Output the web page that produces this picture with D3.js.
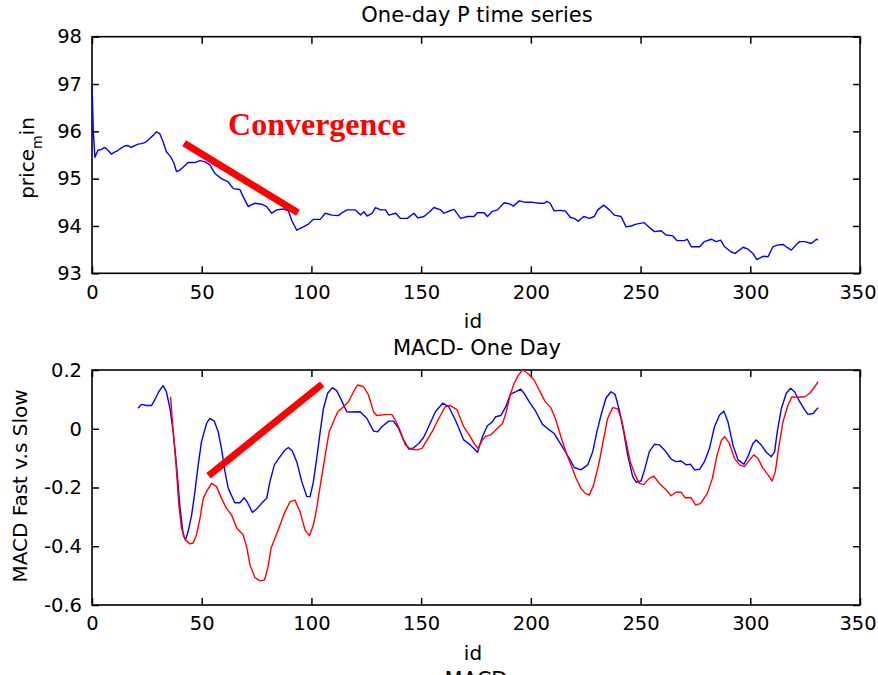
<!DOCTYPE html>
<html>
<head>
<meta charset="utf-8">
<script src="https://cdn.jsdelivr.net/npm/d3@7"></script>
<style>
  html, body { margin: 0; padding: 0; background: #fff; }
  svg { display: block; }
  text { font-family: "DejaVu Sans", sans-serif; fill: #000; }
</style>
</head>
<body>
<script>
// ---- One-day price series ----
const priceIds = [0, 0.6, 1.3, 2.7, 4.3, 5.8, 7.3, 8.8, 10.3, 11.9, 13.4, 14.9, 16.4, 17.9, 19.5, 21, 22.5, 24, 25.2, 26.3,
  28, 29.4, 30.9, 32.4, 33.9, 35.9, 37.4, 38.5, 40, 41.5, 43.8, 46.9, 49.2, 51.4, 53.7, 56, 59, 62.1, 64.4, 67.4,
  68.9, 71.2, 72.8, 74.3, 77.3, 79.6, 81.9, 84.2, 87.2, 89.5, 91, 93.3, 96.3, 98.6, 100.9, 104, 106.3, 109.3, 112.3, 114,
  116.3, 120.1, 122.4, 123.9, 125.4, 127.7, 129.2, 131.5, 133.8, 135.3, 138.4, 140.6, 143.7, 146.7, 148.5, 151.3, 153.6, 155.8, 158.9, 160.4,
  161.9, 165, 168, 171.1, 174.1, 175.6, 178.7, 180.2, 182.5, 184.8, 187.8, 190.8, 192, 194.7, 197.7, 200.8, 203.8, 206.1, 207.3, 208.8,
  210.6, 213.6, 215.9, 218, 219.8, 221.6, 224.1, 226.6, 228.9, 230.5, 233.2, 235.8, 238, 241.1, 243.4, 245.7, 248, 251.7, 254, 256.3,
  259.4, 261.6, 264.7, 266.7, 270, 271.3, 273.1, 276.9, 279.1, 282.2, 284.5, 286.5, 288.3, 291.3, 293.1, 296.7, 299, 301.2, 303, 305.8,
  308.1, 310.3, 312.6, 314.9, 316.4, 318.7, 321, 322.5, 324.8, 327.9, 330.1, 330.9];
const priceVals = [97.0, 96.0, 95.45, 95.6, 95.62, 95.66, 95.6, 95.52, 95.56, 95.6, 95.65, 95.69, 95.7, 95.66, 95.7, 95.73, 95.74, 95.76, 95.8, 95.85,
  95.92, 95.99, 95.95, 95.78, 95.57, 95.46, 95.32, 95.15, 95.18, 95.24, 95.34, 95.34, 95.38, 95.36, 95.29, 95.11, 95.0, 94.93, 94.79, 94.77,
  94.62, 94.41, 94.45, 94.48, 94.46, 94.41, 94.27, 94.34, 94.36, 94.32, 94.12, 93.91, 93.98, 94.04, 94.14, 94.14, 94.27, 94.23, 94.22, 94.28,
  94.34, 94.34, 94.23, 94.30, 94.21, 94.27, 94.39, 94.34, 94.34, 94.23, 94.27, 94.16, 94.16, 94.27, 94.17, 94.2, 94.29, 94.39, 94.34, 94.27,
  94.30, 94.35, 94.16, 94.2, 94.2, 94.28, 94.28, 94.2, 94.31, 94.34, 94.49, 94.46, 94.42, 94.53, 94.5, 94.5, 94.48, 94.48, 94.52, 94.48,
  94.32, 94.33, 94.31, 94.18, 94.16, 94.1, 94.2, 94.16, 94.2, 94.34, 94.44, 94.34, 94.23, 94.2, 93.98, 94.0, 94.04, 94.07, 93.97, 93.88,
  93.9, 93.81, 93.79, 93.69, 93.69, 93.72, 93.56, 93.56, 93.67, 93.72, 93.67, 93.70, 93.56, 93.45, 93.42, 93.55, 93.51, 93.42, 93.29, 93.36,
  93.35, 93.56, 93.6, 93.61, 93.56, 93.49, 93.61, 93.67, 93.67, 93.63, 93.72, 93.70];

// ---- MACD fast line (blue) ----
const fastIds = [21, 22.5, 24.8, 27.1, 28.6, 30.4, 32.4, 33.9, 35.5, 37, 38.5, 40, 41.6, 42.6, 43.8, 45.4, 46.9, 48.4, 49.9, 52.2,
  53.7, 55.7, 57.5, 59, 60.6, 62.1, 65.1, 67.4, 69.4, 70.8, 73.1, 75, 77.3, 79.6, 81.1, 83.1, 85.7, 88, 89.5, 91.3,
  93.3, 95.6, 97.9, 99.4, 100.9, 102.4, 104, 105.5, 107.4, 109.6, 111.6, 113.8, 116.1, 118.4, 122.2, 125.3, 128.3, 130.3, 132.1, 135.2,
  137.4, 139.7, 142, 144.3, 146.6, 148.9, 151.1, 153.4, 156.5, 159.8, 162.6, 165.6, 169.4, 172.4, 175.7, 177.9, 180.2, 182.5, 184, 186.3,
  188.6, 190.6, 193.2, 195.4, 196.9, 199.2, 202.3, 205.3, 208.4, 210.6, 212.9, 215.2, 217.5, 219.8, 222.8, 225.9, 228.2, 230.1, 232, 234.2,
  236.5, 238.4, 240.3, 242.3, 244.1, 246.4, 248, 250.2, 252, 254, 256.3, 258.6, 260.9, 263.9, 266.2, 268.5, 270.8, 272.8, 274.6, 276.9,
  279.1, 281.4, 283.7, 286, 288, 289.8, 292.1, 294.4, 297.1, 298.9, 301.2, 302.7, 305, 307.3, 309.6, 311.1, 312.3, 314.2, 316.4, 318.4,
  320.2, 322.5, 324.8, 326.3, 328.6, 330.9];
const fastVals = [0.07, 0.083, 0.079, 0.079, 0.098, 0.126, 0.147, 0.126, 0.07, -0.01, -0.123, -0.26, -0.362, -0.379, -0.35, -0.294, -0.214, -0.123, -0.044, 0.018,
  0.035, 0.026, -0.01, -0.067, -0.146, -0.203, -0.252, -0.252, -0.235, -0.25, -0.285, -0.273, -0.254, -0.237, -0.18, -0.123, -0.095, -0.072, -0.064, -0.076,
  -0.112, -0.18, -0.231, -0.231, -0.18, -0.101, -0.01, 0.07, 0.121, 0.14, 0.129, 0.095, 0.058, 0.057, 0.058, 0.035, -0.008, -0.01, 0.007, 0.026,
  0.026, 0.001, -0.038, -0.069, -0.065, -0.05, -0.03, 0.007, 0.058, 0.087, 0.075, 0.03, -0.038, -0.055, -0.08, -0.027, 0.01, 0.024, 0.041, 0.045,
  0.075, 0.117, 0.126, 0.135, 0.121, 0.092, 0.058, 0.015, -0.004, -0.016, -0.044, -0.072, -0.101, -0.132, -0.14, -0.123, -0.078, -0.01, 0.047, 0.104,
  0.126, 0.117, 0.064, -0.01, -0.089, -0.163, -0.182, -0.178, -0.135, -0.078, -0.053, -0.055, -0.072, -0.103, -0.112, -0.11, -0.123, -0.121, -0.14, -0.138,
  -0.112, -0.067, 0.007, 0.047, 0.06, 0.024, -0.055, -0.106, -0.121, -0.095, -0.05, -0.038, -0.055, -0.08, -0.095, -0.078, -0.01, 0.07, 0.121, 0.138,
  0.126, 0.092, 0.064, 0.049, 0.052, 0.072];

// ---- MACD slow line (red) ----
const slowIds = [35.8, 37, 38.3, 39.6, 40.8, 42.6, 44.6, 46.1, 47.6, 49.2, 50.7, 52.2, 54.5, 56.8, 59, 61.3, 63.6, 65.9, 68.9, 70.5,
  72, 74.3, 76.6, 78.6, 80.1, 81.6, 83.4, 85.7, 88, 90.3, 92.5, 94.8, 97.1, 99.1, 100.9, 102.4, 104.3, 106.3, 108.1, 110,
  112, 114.6, 116.9, 119.2, 121.1, 123.7, 126, 128.3, 129.8, 133.6, 136.7, 138.2, 140.5, 142.8, 145.1, 148.1, 150.4, 152.7, 155, 158,
  161, 163.3, 166.4, 169.4, 172.4, 174.1, 176, 177.9, 179.5, 181.7, 184, 187.1, 188.6, 190.6, 192.4, 194.2, 196.2, 198.5, 201.5, 203.8,
  206.4, 209.1, 211.4, 213.7, 216, 218.3, 220.5, 222.8, 224.8, 226.6, 228.6, 231.2, 233.2, 235, 237.3, 239.6, 241.4, 243.4, 245.3, 247.5,
  249.4, 251.4, 254, 256, 258.6, 261.6, 263.9, 266.2, 268.5, 270.3, 273.1, 275.1, 277.4, 280.4, 282.7, 284.9, 286.9, 288.3, 290.5, 292.8,
  295.1, 297.4, 299.7, 301.6, 303.5, 305.8, 308.1, 310, 311.4, 312.9, 314.9, 317.2, 319, 321, 324.8, 327.1, 329.4, 330.9];
const slowVals = [0.109, -0.01, -0.123, -0.26, -0.339, -0.379, -0.392, -0.389, -0.362, -0.305, -0.237, -0.214, -0.186, -0.197, -0.237, -0.271, -0.294, -0.337, -0.362, -0.402,
  -0.464, -0.507, -0.518, -0.515, -0.475, -0.407, -0.373, -0.328, -0.282, -0.248, -0.243, -0.282, -0.345, -0.364, -0.328, -0.271, -0.18, -0.089, -0.01, 0.024,
  0.058, 0.075, 0.092, 0.126, 0.149, 0.143, 0.115, 0.058, 0.045, 0.048, 0.048, 0.03, -0.008, -0.055, -0.069, -0.072, -0.067, -0.038, -0.01, 0.035,
  0.075, 0.079, 0.064, 0.007, -0.027, -0.05, -0.067, -0.038, -0.025, -0.021, -0.004, 0.018, 0.052, 0.115, 0.155, 0.181, 0.2, 0.189, 0.166, 0.132,
  0.094, 0.072, 0.03, -0.027, -0.08, -0.123, -0.167, -0.203, -0.22, -0.226, -0.192, -0.112, -0.033, 0.035, 0.072, 0.068, 0.03, -0.044, -0.112, -0.157,
  -0.186, -0.19, -0.169, -0.161, -0.186, -0.208, -0.228, -0.216, -0.216, -0.235, -0.235, -0.26, -0.254, -0.22, -0.169, -0.089, -0.038, -0.027, -0.05, -0.101,
  -0.123, -0.129, -0.106, -0.089, -0.101, -0.135, -0.157, -0.178, -0.146, -0.067, 0.024, 0.081, 0.109, 0.107, 0.109, 0.121, 0.143, 0.16];

// ---- axis ticks ----
const idTicks = [0, 50, 100, 150, 200, 250, 300, 350];
const priceTicks = [93, 94, 95, 96, 97, 98];
const macdTicks = [-0.6, -0.4, -0.2, 0, 0.2];
const macdTickLabels = ["-0.6", "-0.4", "-0.2", "0", "0.2"];

// ---- trend annotations: [id, value] endpoints ----
const priceTrend = [[42, 95.75], [93.9, 94.28]];
const macdTrend = [[53.1, -0.16], [104.9, 0.152]];

const W = 878, H = 675;
const svg = d3.select("body").append("svg").attr("width", W).attr("height", H);
svg.append("rect").attr("width", W).attr("height", H).attr("fill", "#fff");

const X0 = 92, X1 = 860;

function panel(opt) {
  const x = d3.scaleLinear().domain([0, 350]).range([X0, X1]);
  const y = d3.scaleLinear().domain(opt.yDomain).range([opt.yBottom, opt.yTop]);
  const g = svg.append("g");

  const fmt = opt.yLabels ? (d => opt.yLabels[opt.yTicks.indexOf(d)]) : d3.format("d");

  const axB = g.append("g").attr("transform", `translate(0,${opt.yBottom})`)
    .call(d3.axisBottom(x).tickValues(idTicks).tickFormat(d3.format("d")).tickSizeInner(-7).tickSizeOuter(0).tickPadding(11.5));
  const axT = g.append("g").attr("transform", `translate(0,${opt.yTop})`)
    .call(d3.axisTop(x).tickValues(idTicks).tickFormat("").tickSizeInner(-7).tickSizeOuter(0));
  const axL = g.append("g").attr("transform", `translate(${X0},0)`)
    .call(d3.axisLeft(y).tickValues(opt.yTicks).tickFormat(fmt).tickSizeInner(-7).tickSizeOuter(0).tickPadding(10));
  const axR = g.append("g").attr("transform", `translate(${X1},0)`)
    .call(d3.axisRight(y).tickValues(opt.yTicks).tickFormat("").tickSizeInner(-7).tickSizeOuter(0));
  [axB, axT, axL, axR].forEach(a => {
    a.select(".domain").remove();
    a.selectAll("line").attr("stroke", "#000").attr("stroke-width", 1.5);
    a.selectAll("text").attr("font-family", "DejaVu Sans").attr("font-size", 19.5).attr("fill", "#000");
  });
  // keep the last id label inside the page edge
  axB.selectAll("text").filter(d => d === 350).attr("dx", -2.5);

  g.append("rect").attr("x", X0).attr("y", opt.yTop)
    .attr("width", X1 - X0).attr("height", opt.yBottom - opt.yTop)
    .attr("fill", "none").attr("stroke", "#000").attr("stroke-width", 1.6);

  opt.series.forEach(s => {
    const pts = s.ids.map((d, i) => [d, s.vals[i]]);
    g.append("path").datum(pts)
      .attr("d", d3.line().x(d => x(d[0])).y(d => y(d[1])))
      .attr("fill", "none").attr("stroke", s.color).attr("stroke-width", 1.4)
      .attr("stroke-linejoin", "round");
  });

  g.append("path").datum(opt.trend)
    .attr("d", d3.line().x(d => x(d[0])).y(d => y(d[1])))
    .attr("stroke", "#ff0000").attr("stroke-width", 7).attr("fill", "none");

  g.append("text").attr("x", (X0 + X1) / 2 + 1).attr("y", opt.titleY)
    .attr("text-anchor", "middle").attr("font-size", 21).text(opt.title);
  g.append("text").attr("x", (X0 + X1) / 2 - 3).attr("y", opt.yBottom + 55)
    .attr("text-anchor", "middle").attr("font-size", 20).text("id");
  return { x, y, g };
}

const pricePanel = panel({
  yTop: 36.7, yBottom: 273.3, yDomain: [93, 98], yTicks: priceTicks,
  title: "One-day P time series", titleY: 21.5,
  series: [{ ids: priceIds, vals: priceVals, color: "#0000ff" }],
  trend: priceTrend
});
const macdPanel = panel({
  yTop: 370, yBottom: 605, yDomain: [-0.6, 0.2], yTicks: macdTicks, yLabels: macdTickLabels,
  title: "MACD- One Day", titleY: 355,
  series: [{ ids: fastIds, vals: fastVals, color: "#0000ff" }, { ids: slowIds, vals: slowVals, color: "#ff0000" }],
  trend: macdTrend
});

// y-axis labels
const pl = svg.append("text").attr("transform", "translate(33.5,158) rotate(-90)")
  .attr("text-anchor", "middle").attr("font-size", 20);
pl.append("tspan").text("price");
pl.append("tspan").attr("dy", 8).attr("font-size", 14).text("m");
pl.append("tspan").attr("dy", -8).text("in");

svg.append("text").attr("transform", "translate(26.5,486) rotate(-90)")
  .attr("text-anchor", "middle").attr("font-size", 20).text("MACD Fast v.s Slow");

// annotation word above the falling price trend
svg.append("text").attr("x", pricePanel.x(62)).attr("y", pricePanel.y(95.92))
  .attr("font-size", 32).style("fill", "#ff0000")
  .style("font-family", "'Liberation Serif', serif").style("font-weight", "bold")
  .text("Convergence");

// next panel's title, running off the bottom edge
svg.append("text").attr("x", 476).attr("y", 687)
  .attr("text-anchor", "middle").attr("font-size", 21).text("MACD");
</script>
</body>
</html>
